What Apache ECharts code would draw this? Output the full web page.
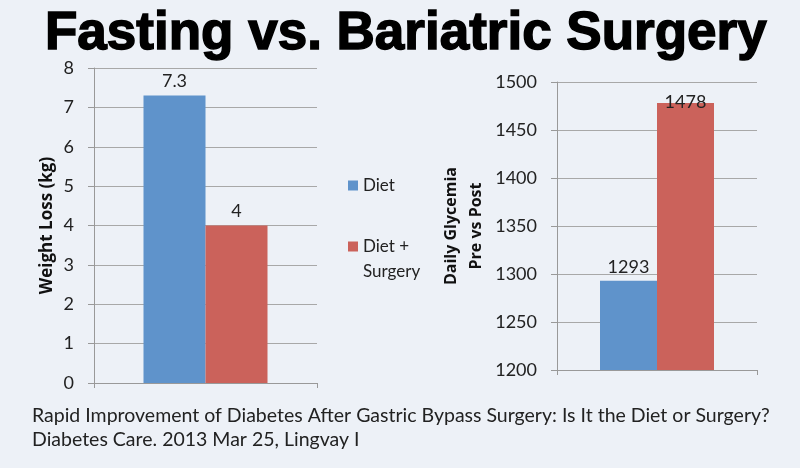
<!DOCTYPE html>
<html>
<head>
<meta charset="utf-8">
<script src="https://cdn.jsdelivr.net/npm/echarts@6/dist/echarts.min.js"></script>
<style>
html,body{margin:0;padding:0;background:#edf1f7;}
#c{width:800px;height:468px;}
</style>
</head>
<body>
<div id="c"></div>
<script>
var seriesNames = ['Diet', 'Diet + Surgery'];
var weightLoss = [7.3, 4];
var glycemia = [1293, 1478];
var weightTicks = {min: 0, max: 8, interval: 1};
var glyTicks = {min: 1200, max: 1500, interval: 50};
var titleText = 'Fasting vs. Bariatric Surgery';
var citation = ['Rapid Improvement of Diabetes After Gastric Bypass Surgery: Is It the Diet or Surgery?',
                'Diabetes Care. 2013 Mar 25, Lingvay I'];
var colors = ['#5f93cb', '#cb625b'];
var FONT = 'Lato';

var chart = echarts.init(document.getElementById('c'));

function yAxisCommon(t, name, gap, nsize) {
  return {
    type: 'value', min: t.min, max: t.max, interval: t.interval,
    name: name, nameLocation: 'middle', nameGap: gap, nameRotate: 90,
    nameTextStyle: {fontFamily: 'Open Sans', fontWeight: 'bold', fontSize: nsize, color: '#111', lineHeight: 25, align: 'center'},
    axisLine: {show: true, lineStyle: {color: '#999', width: 1}},
    axisTick: {show: true, length: 6, lineStyle: {color: '#999'}},
    axisLabel: {fontFamily: FONT, fontSize: 18, color: '#222', margin: 20,
                formatter: function (v) { return String(v); }},
    splitLine: {show: true, lineStyle: {color: '#a8a8a8', width: 1}}
  };
}
function xAxisCommon(idx) {
  return {
    type: 'category', gridIndex: idx, data: [''],
    axisLine: {show: true, lineStyle: {color: '#999', width: 1}},
    axisTick: {show: true, length: 5, lineStyle: {color: '#999'}},
    axisLabel: {show: false}
  };
}

var series = [];
seriesNames.forEach(function (n, i) {
  series.push({
    name: n, type: 'bar', xAxisIndex: 0, yAxisIndex: 0,
    barWidth: 62, barGap: '0%',
    itemStyle: {color: colors[i]},
    label: {show: true, position: 'top', distance: 5, fontFamily: FONT, fontSize: 18, color: '#222'},
    data: [weightLoss[i]]
  });
  series.push({
    name: n, type: 'bar', xAxisIndex: 1, yAxisIndex: 1,
    barWidth: 57, barGap: '0%',
    itemStyle: {color: colors[i]},
    label: {show: true, position: 'top', distance: i === 1 ? -8 : 5, fontFamily: FONT, fontSize: 18, color: '#222'},
    data: [glycemia[i]]
  });
});

chart.setOption({
  backgroundColor: '#edf1f7',
  animation: false,
  title: {
    text: titleText, left: 40, top: 3,
    textStyle: {fontFamily: 'Liberation Sans', fontWeight: 'bold', fontSize: 53, color: '#000',
                textBorderColor: '#000', textBorderWidth: 1.5}
  },
  legend: [{
    data: [seriesNames[0]], orient: 'vertical', left: 343, top: 168,
    icon: 'rect', itemWidth: 10, itemHeight: 10, itemGap: 0,
    textStyle: {fontFamily: FONT, fontSize: 17, color: '#222', lineHeight: 25}
  }, {
    data: [seriesNames[1]], orient: 'vertical', left: 343, top: 204,
    icon: 'rect', itemWidth: 10, itemHeight: 10, itemGap: 0,
    formatter: function (n) { return ' \n' + n.replace(' + ', ' +\n'); },
    textStyle: {fontFamily: FONT, fontSize: 17, color: '#222', lineHeight: 25}
  }],
  grid: [
    {left: 94, right: 483, top: 68, bottom: 85},
    {left: 557, right: 43, top: 82, bottom: 98}
  ],
  xAxis: [xAxisCommon(0), xAxisCommon(1)],
  yAxis: [
    Object.assign(yAxisCommon(weightTicks, 'Weight Loss (kg)', 30, 17), {gridIndex: 0}),
    Object.assign(yAxisCommon(glyTicks, 'Daily Glycemia\nPre vs Post', 68, 16), {gridIndex: 1})
  ],
  graphic: [
    {type: 'text', left: 32, top: 406, style: {text: citation[0], font: '19.5px Lato', fill: '#222'}},
    {type: 'text', left: 32, top: 430, style: {text: citation[1], font: '19.5px Lato', fill: '#222'}}
  ],
  series: series
});
</script>
</body>
</html>
